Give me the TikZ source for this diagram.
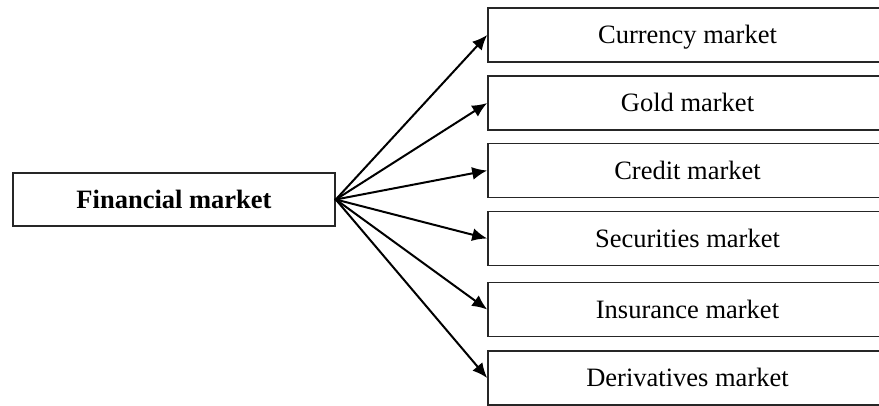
\documentclass[tikz,border=0pt]{standalone}
\usepackage{fontspec}
\setmainfont{Liberation Serif}
\usetikzlibrary{arrows.meta}
\begin{document}
\begin{tikzpicture}[x=1pt,y=-1pt,
  box/.style={draw=black!85, line width=1.6pt, inner sep=0pt, anchor=center,
    font=\fontsize{26.5}{30}\selectfont, text height=17.5pt, text depth=0pt},
  leftbox/.style={box, minimum width=322pt, minimum height=53pt, font=\fontsize{26.5}{30}\selectfont\bfseries},
  rightbox/.style={box, minimum width=399pt, minimum height=54pt},
  conn/.style={line width=2pt, -{Latex[length=15pt,width=13pt]}, shorten <=-1pt}]
\clip (0,0) rectangle (879,405);
\fill[white] (0,0) rectangle (879,405);
\node[leftbox] (fm) at (174,199.5) {Financial market};
\node[rightbox] (r1) at (687.5,35) {Currency market};
\node[rightbox] (r2) at (687.5,103) {Gold market};
\node[rightbox] (r3) at (687.5,170.5) {Credit market};
\node[rightbox] (r4) at (687.5,238.5) {Securities market};
\node[rightbox] (r5) at (687.5,309.5) {Insurance market};
\node[rightbox] (r6) at (687.5,378) {Derivatives market};
\foreach \i in {1,...,6} {\draw[conn] (fm.east) -- (r\i.west);}
\end{tikzpicture}
\end{document}
